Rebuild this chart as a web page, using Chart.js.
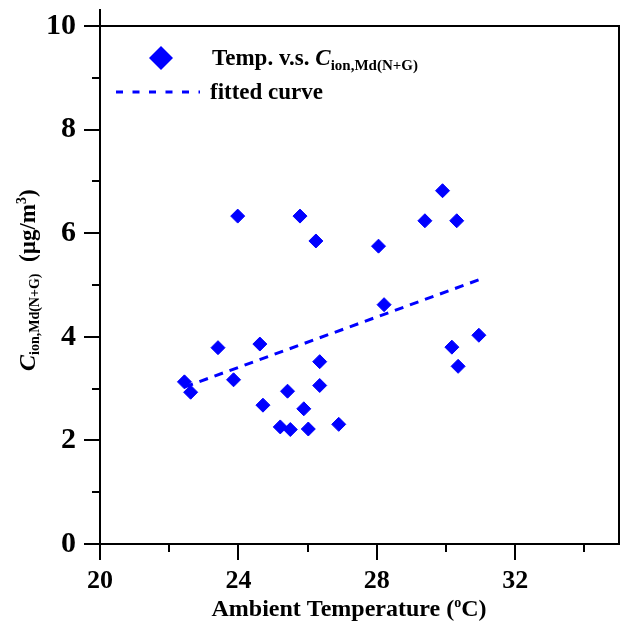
<!DOCTYPE html>
<html><head><meta charset="utf-8">
<script src="https://cdn.jsdelivr.net/npm/chart.js@4"></script>
<style>html,body{margin:0;padding:0;background:#fff}</style>
</head><body>
<canvas id="c" width="627" height="626"></canvas>
<script>
// ---- data ----
const TEMP = [22.44, 22.62, 23.41, 23.86, 23.98, 24.62, 24.71, 25.21, 25.42, 25.50, 25.78, 25.89, 26.02, 26.24, 26.35, 26.35, 26.90, 28.05, 28.21, 29.39, 29.90, 30.17, 30.31, 30.35, 30.95];
const CONC = [3.13, 2.93, 3.79, 3.17, 6.33, 3.86, 2.68, 2.26, 2.95, 2.21, 6.33, 2.61, 2.22, 5.85, 3.52, 3.06, 2.31, 5.75, 4.62, 6.24, 6.82, 3.80, 6.24, 3.43, 4.03];
const FIT_TEMP = [22.44, 30.95];
const FIT_CONC = [3.03, 5.10];
const X_MAJOR = [20, 24, 28, 32];
const X_MINOR = [22, 26, 30, 34];
const Y_MAJOR = [0, 2, 4, 6, 8, 10];
const Y_MINOR = [1, 3, 5, 7, 9];
const X_RANGE = [20, 35];
const Y_RANGE = [0, 10];
const LEGEND_SCATTER = ['Temp. v.s. ', 'C', 'ion,Md(N+G)'];
const LEGEND_FIT = 'fitted curve';
const X_TITLE = ['Ambient Temperature (', 'o', 'C)'];
const Y_TITLE = ['C', 'ion,Md(N+G)', '  (\u00B5g/m', '3', ')'];

const BLUE = '#0000ff';
const SERIF = '"Liberation Serif", "Times New Roman", serif';

function richText(ctx, x, y, parts) {
  let cx = x;
  for (const p of parts) {
    ctx.font = p.f;
    ctx.fillText(p.t, cx, y + (p.dy || 0));
    cx += ctx.measureText(p.t).width;
  }
  return cx;
}

const decor = {
  id: 'decor',
  afterDraw(chart) {
    const ctx = chart.ctx;
    const a = chart.chartArea;
    const xs = chart.scales.x, ys = chart.scales.y;
    ctx.save();
    ctx.strokeStyle = '#000';
    ctx.lineWidth = 2;
    ctx.lineCap = 'butt';
    ctx.beginPath();
    // frame top/right + left extension
    ctx.moveTo(a.left, a.top); ctx.lineTo(a.right + 1, a.top);
    ctx.moveTo(a.right, a.top); ctx.lineTo(a.right, a.bottom);
    ctx.moveTo(a.left, a.top); ctx.lineTo(a.left, a.top - 17);
    // minor ticks
    for (const v of X_MINOR) {
      const px = Math.round(xs.getPixelForValue(v));
      ctx.moveTo(px, a.bottom); ctx.lineTo(px, a.bottom + 8);
    }
    for (const v of Y_MINOR) {
      const py = Math.round(ys.getPixelForValue(v));
      ctx.moveTo(a.left, py); ctx.lineTo(a.left - 8, py);
    }
    ctx.stroke();

    // legend
    ctx.fillStyle = BLUE;
    ctx.beginPath();
    const lx = 161, ly = 58, r = 12;
    ctx.moveTo(lx, ly - r); ctx.lineTo(lx + r, ly); ctx.lineTo(lx, ly + r); ctx.lineTo(lx - r, ly); ctx.closePath();
    ctx.fill();
    ctx.strokeStyle = BLUE;
    ctx.lineWidth = 3;
    ctx.setLineDash([7, 9.5]);
    ctx.beginPath();
    ctx.moveTo(116, 92); ctx.lineTo(200, 92);
    ctx.stroke();
    ctx.setLineDash([]);

    ctx.fillStyle = '#000';
    ctx.textBaseline = 'alphabetic';
    ctx.textAlign = 'left';
    richText(ctx, 212, 65, [
      {t: LEGEND_SCATTER[0], f: 'bold 23px ' + SERIF},
      {t: LEGEND_SCATTER[1], f: 'italic bold 23px ' + SERIF},
      {t: LEGEND_SCATTER[2], f: 'bold 15px ' + SERIF, dy: 5}
    ]);
    richText(ctx, 210, 99, [{t: LEGEND_FIT, f: 'bold 23px ' + SERIF}]);

    // x title
    const xParts = [
      {t: X_TITLE[0], f: 'bold 24px ' + SERIF},
      {t: X_TITLE[1], f: 'bold 14px ' + SERIF, dy: -9},
      {t: X_TITLE[2], f: 'bold 24px ' + SERIF}
    ];
    let w = 0;
    for (const p of xParts) { ctx.font = p.f; w += ctx.measureText(p.t).width; }
    richText(ctx, 349 - w / 2, 616, xParts);

    // y title
    ctx.save();
    ctx.translate(35, 371);
    ctx.rotate(-Math.PI / 2);
    richText(ctx, 0, 0, [
      {t: Y_TITLE[0], f: 'italic bold 24px ' + SERIF},
      {t: Y_TITLE[1], f: 'bold 14px ' + SERIF, dy: 4},
      {t: Y_TITLE[2], f: 'bold 23px ' + SERIF},
      {t: Y_TITLE[3], f: 'bold 14px ' + SERIF, dy: -9},
      {t: Y_TITLE[4], f: 'bold 23px ' + SERIF}
    ]);
    ctx.restore();
    ctx.restore();
  }
};

new Chart(document.getElementById('c'), {
  data: {
    datasets: [
      {
        type: 'scatter',
        label: 'Temp. v.s. C',
        data: TEMP.map((t, i) => ({x: t, y: CONC[i]})),
        pointStyle: 'rectRot',
        pointRadius: 7,
        pointHoverRadius: 7,
        backgroundColor: BLUE,
        borderColor: BLUE,
        borderWidth: 1,
        order: 1
      },
      {
        type: 'line',
        label: 'fitted curve',
        data: FIT_TEMP.map((t, i) => ({x: t, y: FIT_CONC[i]})),
        borderColor: BLUE,
        borderWidth: 3,
        borderDash: [9, 7],
        pointRadius: 0,
        fill: false,
        order: 2
      }
    ]
  },
  options: {
    responsive: false,
    devicePixelRatio: 1,
    animation: false,
    layout: {padding: {top: 25, right: 8, left: 0, bottom: 0}},
    plugins: {legend: {display: false}, tooltip: {enabled: false}},
    scales: {
      x: {
        type: 'linear',
        min: X_RANGE[0], max: X_RANGE[1],
        afterBuildTicks: s => { s.ticks = X_MAJOR.map(v => ({value: v})); },
        afterFit: s => { s.height = 82; },
        border: {display: true, color: '#000', width: 2},
        grid: {drawOnChartArea: false, drawTicks: true, tickLength: 16, color: '#000', lineWidth: 2},
        ticks: {color: '#000', padding: 6, maxRotation: 0, font: {family: SERIF, size: 26, weight: 'bold'}}
      },
      y: {
        type: 'linear',
        min: Y_RANGE[0], max: Y_RANGE[1],
        afterBuildTicks: s => { s.ticks = Y_MAJOR.map(v => ({value: v})); },
        afterFit: s => { s.width = 100; },
        border: {display: true, color: '#000', width: 2},
        grid: {drawOnChartArea: false, drawTicks: true, tickLength: 16, color: '#000', lineWidth: 2},
        ticks: {color: '#000', padding: 8, font: {family: SERIF, size: 30, weight: 'bold'}}
      }
    }
  },
  plugins: [decor]
});
</script>
</body></html>
